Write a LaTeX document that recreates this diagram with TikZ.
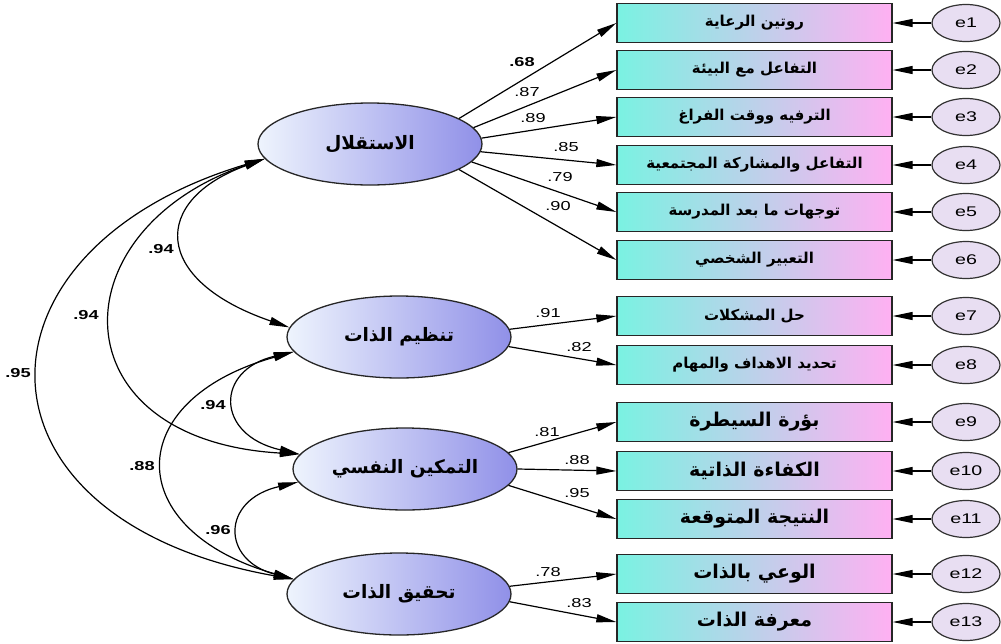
\documentclass[tikz,border=0pt]{standalone}
\usepackage{fontspec}
\usetikzlibrary{arrows.meta,shapes.geometric}
\TeXXeTstate=1
\newfontfamily\arabicfont[Script=Arabic]{DejaVu Sans}
\newfontfamily\numfont[FakeStretch=1.4]{Liberation Sans}
\definecolor{boxleft}{RGB}{122,242,226}
\definecolor{boxright}{RGB}{255,176,242}
\definecolor{latleft}{RGB}{238,244,253}
\definecolor{latright}{RGB}{144,144,232}
\definecolor{errfill}{RGB}{232,222,242}

\begin{document}
\begin{tikzpicture}[x=1pt,y=-1pt,
    item/.style={draw=black!85,line width=1.3pt,minimum width=275pt,minimum height=39pt,inner sep=0pt,
      left color=boxleft,right color=boxright,font=\arabicfont\bfseries},
    latent/.style={ellipse,draw=black!85,line width=1.3pt,minimum width=224pt,minimum height=82pt,inner sep=0pt,
      left color=latleft,right color=latright,font=\arabicfont\bfseries\fontsize{18.5}{20}\selectfont},
    err/.style={ellipse,draw=black!80,line width=1.2pt,fill=errfill,minimum width=68pt,minimum height=37pt,
      font=\numfont\fontsize{14}{16}\selectfont},
    load/.style={line width=1.2pt,-{Triangle[length=20pt,width=8pt]}},
    cov/.style={line width=1.2pt,{Triangle[length=20pt,width=8pt]}-{Triangle[length=20pt,width=8pt]}},
    coef/.style={font=\numfont\fontsize{13}{13}\selectfont,inner sep=0pt}]
  \useasboundingbox (0,0) rectangle (1001,643);

  % observed variables and their errors
  \foreach \i/\y/\s/\txt in {1/23/15/روتين الرعاية, 2/70/15/التفاعل مع البيئة, 3/117/15/الترفيه ووقت الفراغ,
      4/165/15/التفاعل والمشاركة المجتمعية, 5/212/15/توجهات ما بعد المدرسة, 6/260/15/التعبير الشخصي,
      7/316/15/حل المشكلات, 8/365/15/تحديد الاهداف والمهام, 9/422/19/بؤرة السيطرة, 10/471/19/الكفاءة الذاتية,
      11/519/19/النتيجة المتوقعة, 12/574/19/الوعي بالذات, 13/622/19/معرفة الذات}{
    \node[item] (x\i) at (754.5,\y) {\fontsize{\s}{\s}\selectfont\beginR\txt\endR};
    \node[err] (e\i) at (966,\y) {e\i};
    \draw[load] (e\i) -- (x\i);
  }

  % latent factors
  \node[latent] (indep) at (370,144) {\beginR الاستقلال\endR};
  \node[latent] (selfreg) at (399,337) {\beginR تنظيم الذات\endR};
  \node[latent] (empower) at (405,469) {\beginR التمكين النفسي\endR};
  \node[latent] (selfact) at (399,594) {\beginR تحقيق الذات\endR};

  % loadings
  \foreach \a/\j in {16/1,9/2,3/3,356/4,350/5,344/6}
    \draw[load] (indep.\a) -- (x\j.west);
  \draw[load] (selfreg.4) -- (x7.west);
  \draw[load] (selfreg.355) -- (x8.west);
  \draw[load] (empower.9) -- (x9.west);
  \draw[load] (empower.0) -- (x10.west);
  \draw[load] (empower.351) -- (x11.west);
  \draw[load] (selfact.4) -- (x12.west);
  \draw[load] (selfact.356) -- (x13.west);

  \node[coef,font=\numfont\bfseries\fontsize{13}{13}\selectfont] (l1) at (522,62) {.68};
  \node[coef] (l2) at (527,92) {.87};
  \node[coef] (l3) at (533,118) {.89};
  \node[coef] (l4) at (566,147) {.85};
  \node[coef] (l5) at (560,177) {.79};
  \node[coef] (l6) at (558,206) {.90};
  \node[coef] (l7) at (548,313) {.91};
  \node[coef] (l8) at (579,347) {.82};
  \node[coef] (l9) at (547,432) {.81};
  \node[coef] (l10) at (577,460) {.88};
  \node[coef] (l11) at (577,493) {.95};
  \node[coef] (l12) at (548,572) {.78};
  \node[coef] (l13) at (579,603) {.83};

  % correlations
  \draw[cov] (indep.188) .. controls (151,200) and (151,280) .. (selfreg.175);
  \draw[cov] (indep.188) .. controls (56,230) and (56,440) .. (empower.172);
  \draw[cov] (indep.188) .. controls (-40,250) and (-40,520) .. (selfact.172);
  \draw[cov] (selfreg.188) .. controls (215,370) and (215,435) .. (empower.172);
  \draw[cov] (selfreg.188) .. controls (121,400) and (121,530) .. (selfact.172);
  \draw[cov] (empower.187) .. controls (221,500) and (221,560) .. (selfact.172);

  \begin{scope}[every node/.style={coef,font=\numfont\bfseries\fontsize{13}{13}\selectfont}]
    \node (r1) at (161,249) {.94};
    \node (r2) at (86,315) {.94};
    \node (r3) at (18,373) {.95};
    \node (r4) at (213,405) {.94};
    \node (r5) at (142,466) {.88};
    \node (r6) at (218,530) {.96};
  \end{scope}
\end{tikzpicture}
\end{document}
